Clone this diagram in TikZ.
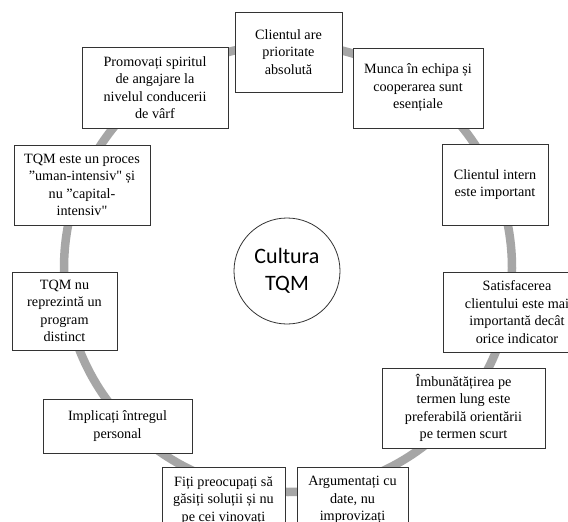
\documentclass[tikz,border=0pt]{standalone}
\usepackage{fontspec}
\setmainfont{Liberation Serif}[Ligatures=TeXOff]
\newfontfamily\calib{Carlito}
\begin{document}
\begin{tikzpicture}[x=1pt,y=-1pt,
  tbox/.style={draw=black!80, line width=0.9pt, fill=white, align=center, inner sep=2pt,
    font=\fontsize{14.2}{17.5}\selectfont},
  ringline/.style={draw=black!35, line width=8.5pt}]
\useasboundingbox (0,0) rectangle (568,522);
\clip (0,0) rectangle (568,522);
\fill[white] (0,0) rectangle (568,522);
\coordinate (ringc) at (288,268);
\draw[ringline] (ringc) circle[radius=224];
\node[draw=black!80, line width=0.8pt, circle, minimum size=106pt, align=center,
  font=\calib\fontsize{22}{27}\selectfont] (core) at (287,271) {Cultura\\TQM};
\node[tbox, minimum width=107pt, minimum height=80pt] (cl) at (288.5,52) {Clientul are\\prioritate\\absolută};
\node[tbox, minimum width=130pt, minimum height=80pt] (munca) at (418,88) {Munca în echipa și\\cooperarea sunt\\esențiale};
\node[tbox, minimum width=106pt, minimum height=81pt] (intern) at (495,184.5) {Clientul intern\\este important};
\node[tbox, minimum width=148pt, minimum height=80pt] (satisf) at (517,312) {Satisfacerea\\clientului este mai\\importantă decât\\orice indicator};
\node[tbox, minimum width=163pt, minimum height=80pt] (imbun) at (463.5,408) {Îmbunătățirea pe\\termen lung este\\preferabilă orientării\\pe termen scurt};
\node[tbox, minimum width=111pt, minimum height=80pt, anchor=north] (arg) at (352.5,467) {Argumentați cu\\date, nu\\improvizați\\\phantom{x}};
\node[tbox, minimum width=123pt, minimum height=80pt, anchor=north] (fiti) at (223.5,467) {Fiți preocupați să\\găsiți soluții și nu\\pe cei vinovați\\\phantom{x}};
\node[tbox, minimum width=149pt, minimum height=54pt] (impl) at (117.5,426) {Implicați întregul\\personal};
\node[tbox, minimum width=105pt, minimum height=78pt] (tqmnu) at (64.5,311) {TQM nu\\reprezintă un\\program\\distinct};
\node[tbox, minimum width=136pt, minimum height=80pt] (tqmeste) at (82,185) {TQM este un proces\\”uman-intensiv" și\\nu ”capital-\\intensiv"};
\node[tbox, minimum width=146pt, minimum height=81pt] (promo) at (155,87.5) {Promovați spiritul\\de angajare la\\nivelul conducerii\\de vârf};
\end{tikzpicture}
\end{document}
